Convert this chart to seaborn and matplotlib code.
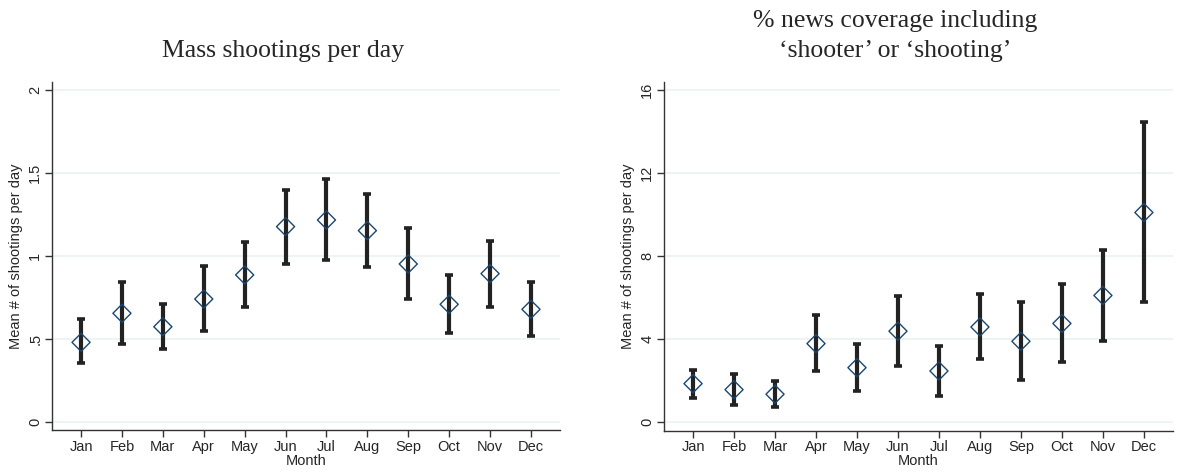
import numpy as np
import pandas as pd
import matplotlib
matplotlib.use("Agg")
import matplotlib.pyplot as plt
import seaborn as sns

# ---------------- DATOS ---------------- #
months = ["Jan", "Feb", "Mar", "Apr", "May", "Jun",
          "Jul", "Aug", "Sep", "Oct", "Nov", "Dec"]

shoot_mean = [0.48, 0.655, 0.574, 0.741, 0.886, 1.177, 1.217, 1.153, 0.952, 0.709, 0.894, 0.679]
shoot_lo = [0.354, 0.468, 0.438, 0.548, 0.693, 0.952, 0.976, 0.936, 0.739, 0.538, 0.693, 0.516]
shoot_hi = [0.62, 0.845, 0.709, 0.94, 1.083, 1.40, 1.466, 1.372, 1.167, 0.886, 1.09, 0.845]

news_mean = [1.85, 1.56, 1.34, 3.78, 2.62, 4.38, 2.46, 4.58, 3.89, 4.75, 6.10, 10.10]
news_lo = [1.18, 0.81, 0.72, 2.45, 1.50, 2.70, 1.24, 3.02, 2.01, 2.88, 3.89, 5.77]
news_hi = [2.53, 2.29, 1.98, 5.18, 3.78, 6.06, 3.67, 6.15, 5.79, 6.64, 8.31, 14.44]

shoot_ticks = [0, 0.5, 1, 1.5, 2]
shoot_ticklabels = ["0", ".5", "1", "1.5", "2"]
news_ticks = [0, 4, 8, 12, 16]
news_ticklabels = ["0", "4", "8", "12", "16"]

NAVY = "#1a476f"
BAR = "#222222"
GRID = "#eaf2f3"
SANS = ["Liberation Sans", "DejaVu Sans"]
SERIF = ["Liberation Serif", "DejaVu Serif"]

sns.set_theme(style="white")
plt.rcParams["font.family"] = SANS


def draw_panel(ax, mean, lo, hi, ticks, ticklabels, ylim):
    df = pd.DataFrame({"pos": np.arange(len(months)), "mean": mean,
                       "lo": lo, "hi": hi})
    for t in ticks:
        ax.axhline(t, color=GRID, lw=1.2, zorder=0)
    ax.errorbar(df["pos"], df["mean"],
                yerr=[df["mean"] - df["lo"], df["hi"] - df["mean"]],
                fmt="none", ecolor=BAR, elinewidth=3.0, capsize=3.2, capthick=2.6,
                zorder=2)
    sns.scatterplot(data=df, x="pos", y="mean", marker="D", s=85,
                    facecolor="none", edgecolor=NAVY, linewidth=1.0,
                    ax=ax, zorder=3)
    ax.set_xlim(-0.71, 11.71)
    ax.set_ylim(*ylim)
    ax.set_xticks(df["pos"])
    ax.set_xticklabels(months, fontsize=10.5)
    ax.set_yticks(ticks)
    ax.set_yticklabels(ticklabels, fontsize=10.5, rotation=90, va="center")
    ax.set_xlabel("Month", fontsize=10.5, labelpad=0)
    ax.set_ylabel("Mean # of shootings per day", fontsize=10.5, labelpad=4)
    for side in ["top", "right"]:
        ax.spines[side].set_visible(False)
    for side in ["left", "bottom"]:
        ax.spines[side].set_color("#333333")
        ax.spines[side].set_linewidth(1.0)
    ax.tick_params(axis="both", direction="out", length=5, width=1,
                   color="#333333", pad=2, left=True, bottom=True)


fig = plt.figure(figsize=(11.77, 4.73), dpi=100)
ax1 = fig.add_axes([0.0442, 0.0909, 0.4316, 0.7357])
ax2 = fig.add_axes([0.5641, 0.0894, 0.4325, 0.7372])

draw_panel(ax1, shoot_mean, shoot_lo, shoot_hi, shoot_ticks, shoot_ticklabels,
           (-0.048, 2.048))
draw_panel(ax2, news_mean, news_lo, news_hi, news_ticks, news_ticklabels,
           (-0.42, 16.39))

fig.text(283 / 1177, 1 - 62 / 473, "Mass shootings per day", family=SERIF,
         fontsize=18.5, ha="center", va="bottom")
fig.text(895 / 1177, 1 - 62 / 473, "% news coverage including\n\u2018shooter\u2019 or \u2018shooting\u2019",
         family=SERIF, fontsize=18.5, ha="center", va="bottom",
         multialignment="center", linespacing=1.5)

fig.savefig("out.png", dpi=100)
